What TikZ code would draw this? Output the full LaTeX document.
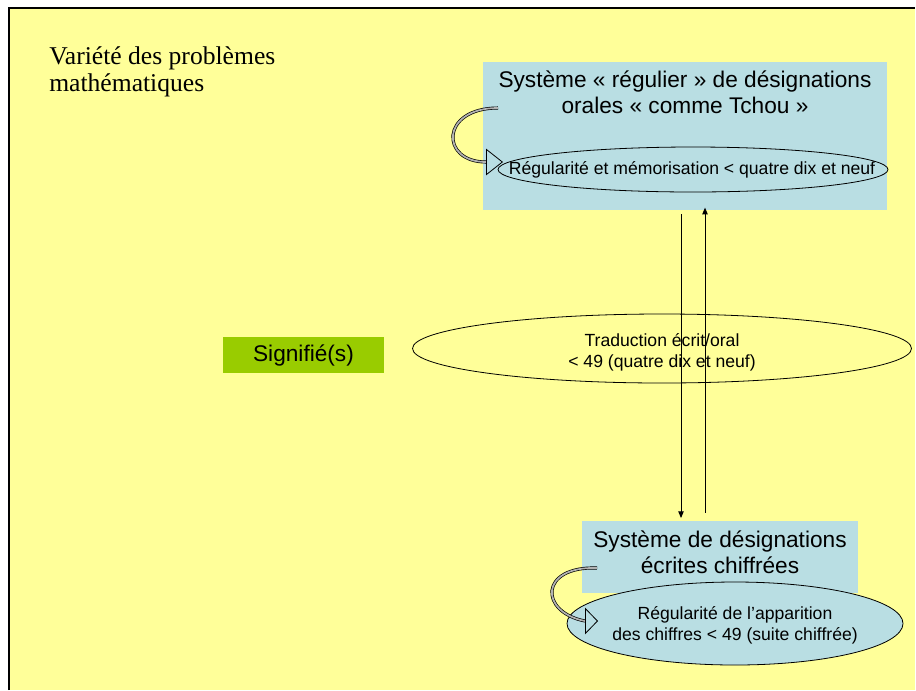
\documentclass[tikz,border=0pt]{standalone}
\usepackage{fontspec}
\setmainfont{Liberation Serif}
\setsansfont{Liberation Sans}
\usetikzlibrary{arrows.meta,shapes.geometric}
\definecolor{fond}{HTML}{FFFF99}
\definecolor{bleu}{RGB}{185,222,227}
\definecolor{vert}{HTML}{99CC00}
\tikzset{
  boite/.style={rectangle, fill=bleu, inner sep=0pt},
  gros/.style={font=\sffamily\fontsize{17}{19}\selectfont, align=center, anchor=base},
  petit/.style={font=\sffamily\fontsize{13.2}{15.5}\selectfont, align=center, anchor=base},
  bulle/.style={ellipse, draw, line width=0.6pt, inner sep=0pt},
  fleche/.style={line width=0.7pt, -{Triangle[length=5pt,width=4pt]}},
  boucle/.style={draw=black, line width=0.5pt, double=gray!60, double distance=1.3pt},
  pointe/.style={line width=0.6pt, -{Triangle[open,length=#1,width=20pt]}}
}

\begin{document}
\begin{tikzpicture}[x=0.75pt, y=-0.75pt]
  \useasboundingbox (0,0) rectangle (916,690);
  \fill[fond] (9,8) rectangle (915,690);
  \draw[line width=0.9pt] (9,690) -- (9,8) -- (915,8);            % cadre
  \node[anchor=base west, align=left, inner sep=0pt, font=\fontsize{19.2}{20}\selectfont] (titre) at (49,91)
    {Variété des problèmes\\mathématiques};
  % systeme oral
  \node[boite, minimum width=303pt, minimum height=111pt] (oral) at (685,136) {};
  \node[gros] (oraltxt) at (685,113) {Système « régulier » de désignations\\orales « comme Tchou »};
  \node[bulle, minimum width=292.5pt, minimum height=33.75pt] (oralreg) at (693,169.5) {};
  \node[petit] (oralregtxt) at (692,174) {Régularité et mémorisation < quatre dix et neuf};
  % systeme ecrit
  \node[boite, minimum width=207pt, minimum height=54pt] (ecrit) at (720,557) {};
  \node[gros] (ecrittxt) at (720,573) {Système de désignations\\écrites chiffrées};
  \node[bulle, fill=bleu, minimum width=252pt, minimum height=62.25pt] (ecritreg) at (735,623.5) {};
  \node[petit] (ecritregtxt) at (735,640) {Régularité de l’apparition\\des chiffres < 49 (suite chiffrée)};
  % traduction
  \node[bulle, minimum width=374.25pt, minimum height=51.75pt] (trad) at (662,348.5) {};
  \node[petit] (tradtxt) at (662,367) {Traduction écrit/oral\\< 49 (quatre dix et neuf)};
  \node[fill=vert, minimum width=120.75pt, minimum height=27pt, inner sep=0pt,
        font=\sffamily\fontsize{17}{19}\selectfont] (signifie) at (303.5,355) {Signifié(s)};
  % fleches verticales
  \coordinate (bas) at (681,0);
  \coordinate (haut) at (705,0);
  \draw[fleche, shorten <=3pt, shorten >=2pt] (oral.south -| bas) -- (ecrit.north -| bas);
  \draw[fleche, shorten <=6pt, shorten >=-2pt] (ecrit.north -| haut) -- (oral.south -| haut);
  % boucles
  \coordinate (b1) at (486,162);
  \coordinate (b2) at (585,621);
  \draw[boucle] (498,108) .. controls (440,108) and (440,162) .. (b1);
  \draw[pointe=12.75pt] (b1) -- (503,162);
  \draw[boucle] (597,568) .. controls (539,566) and (539,612) .. (b2);
  \draw[pointe=9.75pt] (b2) -- (598,621);
\end{tikzpicture}
\end{document}
